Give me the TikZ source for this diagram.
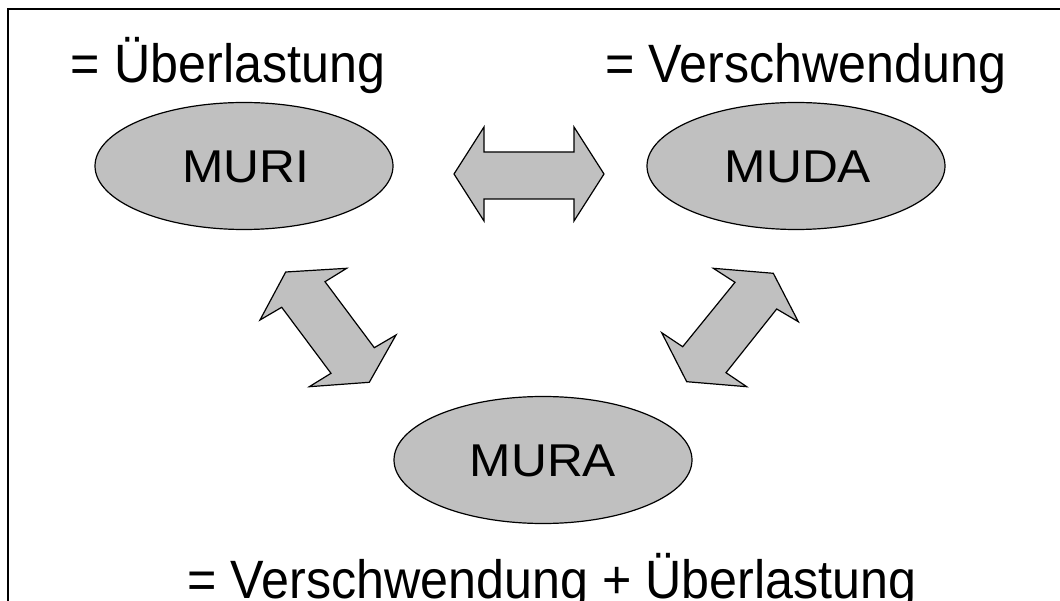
\documentclass[tikz,border=0pt]{standalone}
\usepackage{fontspec}
\setmainfont{Liberation Sans}
\usetikzlibrary{shapes.geometric}
\definecolor{shapegray}{RGB}{192,192,192}
\newcommand{\wideword}[1]{\scalebox{1.08}[1]{#1}}
\newcommand{\narrowline}[1]{\scalebox{0.93}[1]{#1}}
\begin{document}
\begin{tikzpicture}[x=1pt,y=-1pt,
  oval/.style={ellipse,draw=black,line width=1.2pt,fill=shapegray,
    minimum width=298pt,minimum height=127pt,inner sep=0pt},
  ovaltext/.style={anchor=base,inner sep=0pt,font=\fontsize{46}{50}\selectfont},
  label/.style={anchor=base,inner sep=0pt,font=\fontsize{54}{60}\selectfont},
  blockarrow/.style={draw=black,line width=1.2pt,fill=shapegray,line join=miter}]
\useasboundingbox (0,0) rectangle (1060,601);
\draw[line width=1.6pt] (8,601) -- (8,9) -- (1060,9);

\node[oval] (muri) at (244,166) {};
\node[oval] (muda) at (796,166) {};
\node[oval] (mura) at (543,460) {};
\node[ovaltext] (muritext) at (246,183) {\wideword{MURI}};
\node[ovaltext] (mudatext) at (798,183) {\wideword{MUDA}};
\node[ovaltext] (muratext) at (543,476) {\wideword{MURA}};

\node[label] (tmuri) at (228,83) {\narrowline{= Überlastung}};
\node[label] (tmuda) at (806,83) {\narrowline{= Verschwendung}};
\node[label] (tmura) at (552,598) {\narrowline{= Verschwendung + Überlastung}};

% horizontal double arrow
\draw[blockarrow] (454,174) -- (484,127) -- (484,152) -- (574,152) -- (574,127)
  -- (604,174) -- (574,221) -- (574,199) -- (484,199) -- (484,221) -- cycle;

% left diagonal double arrow
\draw[blockarrow] (285.7,272) -- (346.7,268.3) -- (325,281.7) -- (374.3,347.7)
  -- (396,335) -- (369.3,382.3) -- (309.3,386.7) -- (331,373.3)
  -- (281.7,307.3) -- (260,320) -- cycle;

% right diagonal double arrow
\draw[blockarrow] (773.3,273.3) -- (798.3,321.7) -- (776.7,309) -- (726,372.7)
  -- (746.7,386.7) -- (686.7,381.7) -- (661.7,332.7) -- (682.7,346.7)
  -- (735,282.3) -- (713.3,268.3) -- cycle;
\end{tikzpicture}
\end{document}
